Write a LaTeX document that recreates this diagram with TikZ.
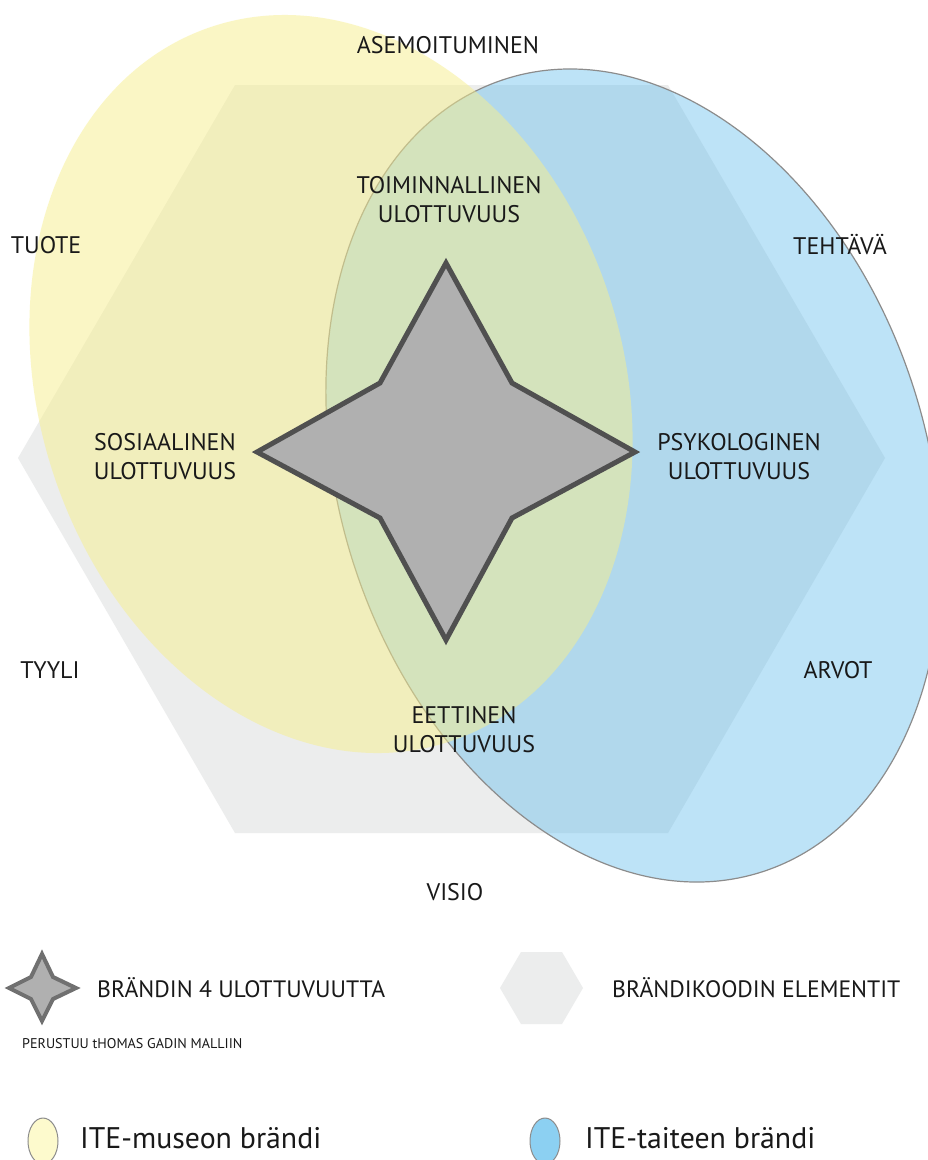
\documentclass[tikz,border=0pt]{standalone}
\usepackage{fontspec}
\setmainfont{PT Sans}
\begin{document}
\begin{tikzpicture}[x=1pt,y=-1pt,
  lbl/.style={inner sep=0pt,align=center,font=\fontsize{24}{29}\selectfont,text=black!90},
  leg/.style={inner sep=0pt,anchor=west,font=\fontsize{23.7}{27}\selectfont,text=black!90},
  legbig/.style={inner sep=0pt,anchor=west,font=\fontsize{29.8}{34}\selectfont,text=black!90},
  small/.style={inner sep=0pt,anchor=west,font=\fontsize{14.1}{16}\selectfont,text=black!90}]
\definecolor{hexfill}{RGB}{236,237,237}
\definecolor{bluefill}{RGB}{90,185,235}
\definecolor{yellowfill}{RGB}{247,239,141}
\definecolor{starfill}{RGB}{176,176,176}
\definecolor{starline}{RGB}{80,80,80}
\definecolor{legstarline}{RGB}{112,112,112}
\definecolor{legyellow}{RGB}{253,250,205}
\definecolor{legblue}{RGB}{140,208,242}
\definecolor{ellline}{RGB}{140,140,140}
\useasboundingbox (0,0) rectangle (928,1160);
\fill[white] (0,0) rectangle (928,1160);
% hexagon
\fill[hexfill] (18,458) -- (235,85) -- (668,85) -- (885,458) -- (668,833) -- (235,833) -- cycle;
% blue ellipse
\filldraw[fill=bluefill,fill opacity=0.4,draw=ellline,line width=1.2pt,rotate around={18.1:(633.5,475.5)}] (633.5,475.5) ellipse [x radius=293.5pt,y radius=416.7pt];
% yellow ellipse
\fill[yellowfill,opacity=0.5,rotate around={18.6:(331,384)}] (331,384) ellipse [x radius=291.8pt,y radius=376.7pt];
% star
\filldraw[fill=starfill,draw=starline,line width=5pt,line join=miter]
  (446,263) -- (512,383) -- (635,452) -- (512,518) -- (446,640) -- (380,518) -- (257,452) -- (380,383) -- cycle;
% labels
\node[lbl] (asem) at (448,45) {ASEMOITUMINEN};
\node[lbl] (toim) at (449,200) {TOIMINNALLINEN\\ULOTTUVUUS};
\node[lbl] (tuote) at (46,245) {TUOTE};
\node[lbl] (teht) at (840,245) {TEHTÄVÄ};
\node[lbl] (sos) at (165,457) {SOSIAALINEN\\ULOTTUVUUS};
\node[lbl] (psy) at (739,457) {PSYKOLOGINEN\\ULOTTUVUUS};
\node[lbl] (tyyli) at (50,670) {TYYLI};
\node[lbl] (arvot) at (838,670) {ARVOT};
\node[lbl] (eett) at (464,730) {EETTINEN\\ULOTTUVUUS};
\node[lbl] (visio) at (455,892) {VISIO};
% legend
\filldraw[fill=starfill,draw=legstarline,line width=4pt,line join=miter]
  (42,954) -- (53,977) -- (76,988) -- (53,999) -- (42,1021) -- (31,999) -- (9,988) -- (31,977) -- cycle;
\node[leg] (l1) at (97,988) {BRÄNDIN 4 ULOTTUVUUTTA};
\fill[hexfill] (500,988) -- (521,952) -- (562,952) -- (583,988) -- (562,1024) -- (521,1024) -- cycle;
\node[leg] (l2) at (612,988) {BRÄNDIKOODIN ELEMENTIT};
\node[small] (per) at (22,1044) {PERUSTUU tHOMAS GADIN MALLIIN};
\filldraw[fill=legyellow,draw=ellline,line width=1pt] (43,1141) ellipse [x radius=15pt,y radius=23pt];
\node[legbig] (l3) at (80,1138) {ITE-museon brändi};
\filldraw[fill=legblue,draw=ellline,line width=1pt] (545,1141) ellipse [x radius=15pt,y radius=23pt];
\node[legbig] (l4) at (585,1138) {ITE-taiteen brändi};
\end{tikzpicture}
\end{document}
